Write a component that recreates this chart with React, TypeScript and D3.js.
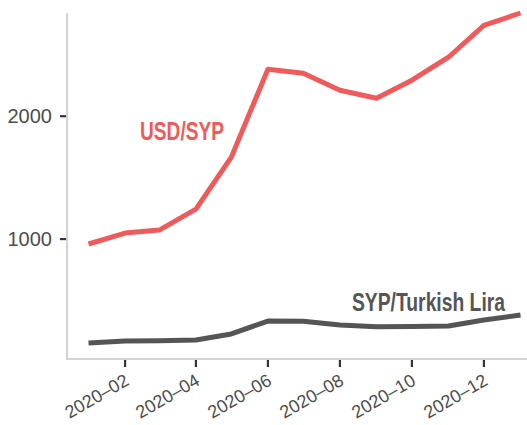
import React from "react";
import { scaleLinear, scaleTime, line } from "d3";

const months = [
  "2020-01-01", "2020-02-01", "2020-03-01", "2020-04-01", "2020-05-01",
  "2020-06-01", "2020-07-01", "2020-08-01", "2020-09-01", "2020-10-01",
  "2020-11-01", "2020-12-01", "2021-01-01",
];
const usdSyp = [960, 1049, 1073, 1244, 1667, 2382, 2350, 2211, 2146, 2293, 2480, 2740, 2840];
const sypTry = [154, 171, 172, 179, 228, 333, 332, 301, 287, 288, 292, 341, 382];
const yTicks = [1000, 2000];
const xTickDates = ["2020-02-01", "2020-04-01", "2020-06-01", "2020-08-01", "2020-10-01", "2020-12-01"];

const width = 527;
const height = 425;
const left = 67;
const top = 13;
const bottom = 359;

const parse = (s: string) => new Date(s + "T00:00:00");
const fmt = (d: Date) =>
  `${d.getFullYear()}\u2013${String(d.getMonth() + 1).padStart(2, "0")}`;

const App = () => {
  const x = scaleTime()
    .domain([parse("2020-01-01"), parse("2021-01-01")])
    .range([88.5, 520.5]);
  const y = scaleLinear().domain([24, 2840]).range([bottom, top]);

  const mk = (vals: number[]) =>
    line<number>()
      .x((_, i) => x(parse(months[i])))
      .y((v) => y(v))(vals) || "";

  const font = "'Liberation Sans', Arial, Helvetica, sans-serif";

  return (
    <svg
      width={width}
      height={height}
      style={{ position: "absolute", left: 0, top: 0, background: "#fff" }}
    >
      {/* axes */}
      <line x1={left} x2={left} y1={top} y2={bottom + 1} stroke="#d4d4d4" strokeWidth={2.2} />
      <line x1={left} x2={width} y1={bottom} y2={bottom} stroke="#d4d4d4" strokeWidth={2.2} />

      {yTicks.map((t) => (
        <g key={t}>
          <line x1={left - 7} x2={left - 1} y1={y(t)} y2={y(t)} stroke="#333" strokeWidth={2.2} />
          <text
            x={left - 15}
            y={y(t) + 7}
            textAnchor="end"
            fontFamily={font}
            fontSize={20}
            fill="#4d4d4d"
          >
            {t}
          </text>
        </g>
      ))}

      {xTickDates.map((s) => {
        const d = parse(s);
        const xx = x(d);
        return (
          <g key={s}>
            <line x1={xx} x2={xx} y1={bottom + 1} y2={bottom + 8} stroke="#333" strokeWidth={2.2} />
            <text
              transform={`translate(${xx + 5},${bottom + 25}) rotate(-30)`}
              textAnchor="end"
              fontFamily={font}
              fontSize={18}
              fill="#4d4d4d"
            >
              {fmt(d)}
            </text>
          </g>
        );
      })}

      <path d={mk(sypTry)} fill="none" stroke="#555555" strokeWidth={5} strokeLinejoin="round" />
      <path d={mk(usdSyp)} fill="none" stroke="#f05a5a" strokeWidth={5} strokeLinejoin="round" />

      <text
        x={140}
        y={140}
        fontFamily={font}
        fontWeight="bold"
        fontSize={26}
        textLength={84}
        lengthAdjust="spacingAndGlyphs"
        fill="#f05a5a"
      >
        USD/SYP
      </text>
      <text
        x={352}
        y={311}
        fontFamily={font}
        fontWeight="bold"
        fontSize={25}
        textLength={153}
        lengthAdjust="spacingAndGlyphs"
        fill="#555555"
      >
        SYP/Turkish Lira
      </text>
    </svg>
  );
};

export default App;
